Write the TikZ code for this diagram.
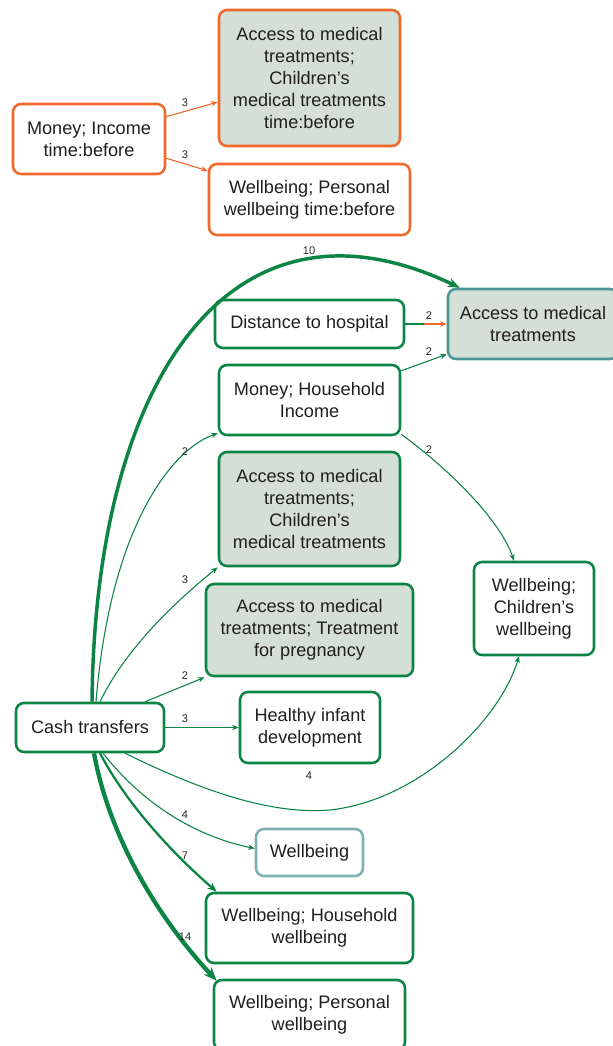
\documentclass[tikz,border=0pt]{standalone}
\usepackage{fontspec}
\setmainfont{Liberation Sans}
\usetikzlibrary{arrows.meta,calc}
\definecolor{gr}{HTML}{0B8444}
\definecolor{orng}{HTML}{F0692A}
\definecolor{fillc}{HTML}{D4DFD5}
\definecolor{tealdk}{HTML}{4E9696}
\definecolor{teallt}{HTML}{7DB0B0}
\begin{document}
\begin{tikzpicture}[x=0.75pt,y=-0.75pt,
  box/.style={draw=gr, line width=1.9pt, rounded corners=6pt, fill=white,
    align=center, inner sep=0pt, text=black!88,
    font=\fontsize{13.6}{16.5}\selectfont},
  shaded/.style={fill=fillc},
  obox/.style={box, draw=orng},
  lbl/.style={font=\fontsize{8.3}{9}\selectfont, inner sep=0pt, text=black!85},
  conn/.style={draw=gr, line width=0.8pt, -{Stealth[length=5pt,width=4pt]}},
  oconn/.style={conn, draw=orng, fill=orng}]
\fill[white] (0,0) rectangle (613,1046);
\useasboundingbox (0,0) rectangle (613,1046);

% earlier period
\node[obox, minimum width=114pt, minimum height=52.5pt] (moneyI) at (89,139) {Money; Income\\time:before};
\node[obox, shaded, minimum width=135.75pt, minimum height=102pt] (accCB) at (309.5,78) {Access to medical\\treatments;\\Children’s\\medical treatments\\time:before};
\node[obox, minimum width=150.75pt, minimum height=53.25pt] (wbPB) at (309.5,199.5) {Wellbeing; Personal\\wellbeing time:before};

% main graph
\node[box, minimum width=141.75pt, minimum height=36pt] (dist) at (309.5,324) {Distance to hospital};
\node[box, shaded, draw=tealdk, minimum width=127.5pt, minimum height=52.5pt] (accR) at (533,324) {Access to medical\\treatments};
\node[box, minimum width=135.75pt, minimum height=52.5pt] (moneyH) at (309.5,400) {Money; Household\\Income};
\node[box, shaded, minimum width=135.75pt, minimum height=85.5pt] (accCh) at (309.5,509) {Access to medical\\treatments;\\Children’s\\medical treatments};
\node[box, shaded, minimum width=155.25pt, minimum height=69pt] (accPr) at (309.5,630) {Access to medical\\treatments; Treatment\\for pregnancy};
\node[box, minimum width=105pt, minimum height=53.25pt] (infant) at (310,727.5) {Healthy infant\\development};
\node[box, minimum width=90pt, minimum height=69.75pt] (wbCh) at (534,608.5) {Wellbeing;\\Children’s\\wellbeing};
\node[box, minimum width=111pt, minimum height=36.75pt] (cash) at (90,727.5) {Cash transfers};
\node[box, draw=teallt, minimum width=80.25pt, minimum height=35.25pt] (wb) at (309.5,852.5) {Wellbeing};
\node[box, minimum width=155.25pt, minimum height=52.5pt] (wbHH) at (309.5,928) {Wellbeing; Household\\wellbeing};
\node[box, minimum width=143.25pt, minimum height=52.5pt] (wbP) at (309.5,1015) {Wellbeing; Personal\\wellbeing};

% connectors of the earlier period
\draw[oconn] ($(moneyI.north east)+(0,14)$) -- ($(accCB.west)+(0,24)$);
\draw[oconn] ($(moneyI.south east)+(0,-17)$) -- ($(wbPB.north west)+(0,8)$);
\node[lbl] (l1) at (185,103) {3};
\node[lbl] (l2) at (185,155) {3};

% connectors from cash transfers
\draw[conn, line width=2.6pt, -{Stealth[length=9pt,width=7pt]}]
  ($(cash.north)+(2,0)$) .. controls (95,380) and (230,178) .. ($(accR.north west)+(13,0)$);
\draw[conn] ($(cash.north)+(6,0)$) .. controls (110,530) and (170,450) .. ($(moneyH.south west)+(0,-3)$);
\draw[conn] ($(cash.north)+(10,0)$) .. controls (130,640) and (190,590) .. (accCh.south west);
\draw[conn] ($(cash.north)+(55,0)$) -- (accPr.south west);
\draw[conn] (cash.east) -- (infant.west);
\draw[conn] ($(cash.south)+(35,0)$) .. controls (200,790) and (270,815) .. (330,810)
  .. controls (420,800) and (500,720) .. ($(wbCh.south)+(-15,0)$);
\draw[conn] ($(cash.south)+(13,0)$) .. controls (140,800) and (190,835) .. ($(wb.west)+(0,-4)$);
\draw[conn, line width=1.7pt, -{Stealth[length=7pt,width=5.5pt]}]
  ($(cash.south)+(10,0)$) .. controls (130,810) and (180,860) .. ($(wbHH.north west)+(12,0)$);
\draw[conn, line width=3.2pt, -{Stealth[length=10pt,width=8pt]}]
  ($(cash.south)+(4,0)$) .. controls (110,840) and (160,920) .. ($(wbP.north west)+(4,2)$);

% other connectors
\draw[draw=gr, line width=0.8pt] (dist.east) -- ($(dist.east)!0.45!(accR.west)$);
\draw[oconn] ($(dist.east)!0.45!(accR.west)$) -- (accR.west);
\draw[conn] ($(moneyH.north east)+(0,7)$) -- ($(accR.south west)+(0,-6)$);
\draw[conn] ($(moneyH.south east)+(0,-2)$) .. controls (450,470) and (500,520) .. ($(wbCh.north)+(-20,0)$);

% weights
\node[lbl] (l10) at (309,251) {10};
\node[lbl] (lD) at (429,316) {2};
\node[lbl] (lMA) at (429,352) {2};
\node[lbl] (lMW) at (429,450) {2};
\node[lbl] (lCM) at (185,452) {2};
\node[lbl] (lCA) at (185,580) {3};
\node[lbl] (lCP) at (185,676) {2};
\node[lbl] (lCI) at (185,719) {3};
\node[lbl] (lCW) at (309,776) {4};
\node[lbl] (lCWb) at (185,815) {4};
\node[lbl] (lCH) at (185,856) {7};
\node[lbl] (lCP2) at (185,937) {14};
\end{tikzpicture}
\end{document}
